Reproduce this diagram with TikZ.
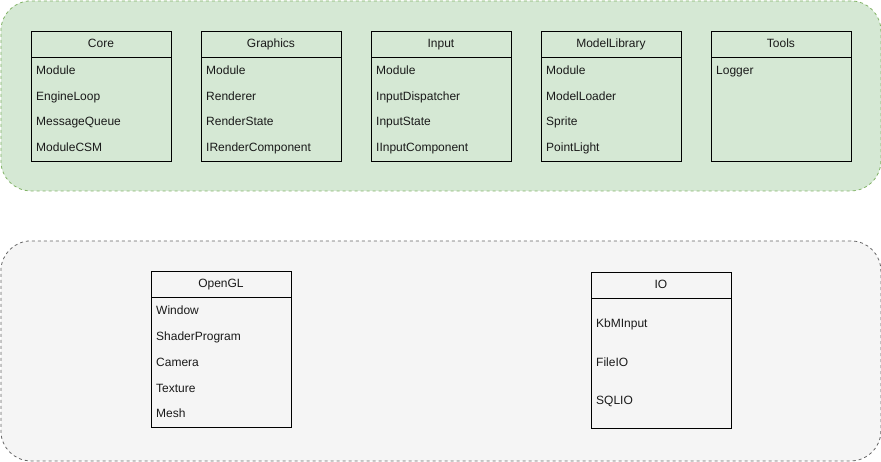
\documentclass[tikz,border=0pt]{standalone}
\usepackage{fontspec}
\setmainfont{Liberation Sans}
\definecolor{grfill}{HTML}{D5E8D4}
\definecolor{grline}{HTML}{82B366}
\definecolor{gyfill}{HTML}{F5F5F5}
\definecolor{gyline}{HTML}{666666}
\definecolor{txt}{HTML}{1A1A1A}
\begin{document}
\begin{tikzpicture}[x=1pt,y=-1pt,
  font=\fontsize{12}{14}\selectfont, text=txt,
  container/.style={draw, dashed, rounded corners=30pt, line width=0.8pt},
  boxhead/.style={draw=black, line width=0.9pt, minimum width=140pt, minimum height=26pt, inner sep=0pt, text height=10.6pt, text depth=2.6pt, anchor=north west},
  boxbody/.style={draw=black, line width=0.9pt, minimum width=140pt, inner sep=0pt, anchor=north west},
  row/.style={anchor=west, inner sep=0pt, text height=8.6pt, text depth=2.6pt}
]
\useasboundingbox (0,0) rectangle (881,461);
% containers
\node[container, fill=grfill, draw=grline, minimum width=880pt, minimum height=190pt, anchor=north west, inner sep=0pt] (top) at (0.5,0.5) {};
\node[container, fill=gyfill, draw=gyline, minimum width=880pt, minimum height=220pt, anchor=north west, inner sep=0pt] (bottom) at (0.5,240.5) {};

% Core
\node[boxbody, minimum height=104pt] (corebody) at (30.5,56.5) {};
\node[boxhead] (core) at (30.5,30.5) {Core};
\node[row] (core1) at (36,71) {Module};
\node[row] (core2) at (36,97) {EngineLoop};
\node[row] (core3) at (36,122) {MessageQueue};
\node[row] (core4) at (36,148) {ModuleCSM};

% Graphics
\node[boxbody, minimum height=104pt] (gfxbody) at (200.5,56.5) {};
\node[boxhead] (gfx) at (200.5,30.5) {Graphics};
\node[row] (gfx1) at (206,71) {Module};
\node[row] (gfx2) at (206,97) {Renderer};
\node[row] (gfx3) at (206,122) {RenderState};
\node[row] (gfx4) at (206,148) {IRenderComponent};

% Input
\node[boxbody, minimum height=104pt] (inbody) at (370.5,56.5) {};
\node[boxhead] (inp) at (370.5,30.5) {Input};
\node[row] (inp1) at (376,71) {Module};
\node[row] (inp2) at (376,97) {InputDispatcher};
\node[row] (inp3) at (376,122) {InputState};
\node[row] (inp4) at (376,148) {IInputComponent};

% ModelLibrary
\node[boxbody, minimum height=104pt] (mlbody) at (540.5,56.5) {};
\node[boxhead] (ml) at (540.5,30.5) {ModelLibrary};
\node[row] (ml1) at (546,71) {Module};
\node[row] (ml2) at (546,97) {ModelLoader};
\node[row] (ml3) at (546,122) {Sprite};
\node[row] (ml4) at (546,148) {PointLight};

% Tools
\node[boxbody, minimum height=104pt] (toolsbody) at (710.5,56.5) {};
\node[boxhead] (tools) at (710.5,30.5) {Tools};
\node[row] (tools1) at (716,71) {Logger};

% OpenGL
\node[boxbody, minimum height=130pt] (glbody) at (150.5,296.5) {};
\node[boxhead] (gl) at (150.5,270.5) {OpenGL};
\node[row] (gl1) at (156,311) {Window};
\node[row] (gl2) at (156,337) {ShaderProgram};
\node[row] (gl3) at (156,363) {Camera};
\node[row] (gl4) at (156,389) {Texture};
\node[row] (gl5) at (156,414) {Mesh};

% IO
\node[boxbody, minimum height=130pt] (iobody) at (590.5,297.5) {};
\node[boxhead] (io) at (590.5,271.5) {IO};
\node[row] (io1) at (596,324) {KbMInput};
\node[row] (io2) at (596,363) {FileIO};
\node[row] (io3) at (596,401) {SQLIO};
\end{tikzpicture}
\end{document}
